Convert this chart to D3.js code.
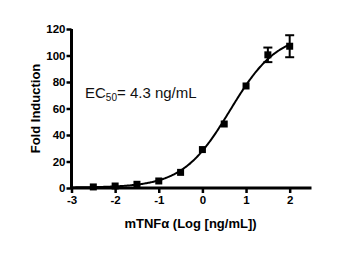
<!DOCTYPE html>
<html><head><meta charset="utf-8">
<script src="https://cdn.jsdelivr.net/npm/d3@7"></script>
<style>body{margin:0;background:#fff}svg{display:block}</style>
</head><body>
<script>
const logConc = [-2.5, -2, -1.5, -1, -0.5, 0, 0.5, 1, 1.5, 2];
const foldInd = [0.8, 1.5, 2.8, 5.3, 11.8, 29, 48.3, 77, 100.5, 107];
const errBar  = [0, 0, 0, 0, 0, 0, 0, 0, 5.5, 8.3];
const xTicks = [-3, -2, -1, 0, 1, 2];
const yTicks = [0, 20, 40, 60, 80, 100, 120];
// 4PL fit parameters
const fitBottom = 0.3, fitTop = 117, fitLogEC50 = Math.log10(4.3), fitHill = 0.8;

const W = 354, H = 253;
const svg = d3.select("body").append("svg").attr("width", W).attr("height", H);
const x = d3.scaleLinear().domain([-3, 2.5]).range([71.5, 311.5]);
const y = d3.scaleLinear().domain([0, 120]).range([188, 29]);
const ff = "Arial, 'Liberation Sans', sans-serif";

const xAxis = svg.append("g").attr("transform", "translate(0,188)")
  .call(d3.axisBottom(x).tickValues(xTicks).tickSize(5).tickPadding(3).tickFormat(d => String(d)));
const yAxis = svg.append("g").attr("transform", "translate(71.5,0)")
  .call(d3.axisLeft(y).tickValues(yTicks).tickSize(5).tickPadding(1));
[xAxis, yAxis].forEach(g => {
  g.select(".domain").attr("stroke", "#000").attr("stroke-width", 3);
  g.selectAll(".tick line").attr("stroke", "#000").attr("stroke-width", 2.5);
  g.selectAll(".tick text").attr("fill", "#000").style("font-family", ff)
   .style("font-size", "11.5px").style("font-weight", "bold");
});
xAxis.select(".domain").attr("d", `M${x(-3)},0H${x(2.5)}`);
yAxis.select(".domain").attr("d", `M0,${y(0)}V${y(120)}`);

// fitted curve
const fx = d3.range(-3, 2.0001, 0.02);
const line = d3.line().x(d => x(d)).y(d => y(fitBottom + (fitTop - fitBottom) / (1 + Math.pow(10, (fitLogEC50 - d) * fitHill))));
svg.append("path").datum(fx).attr("d", line).attr("fill", "none").attr("stroke", "#000").attr("stroke-width", 2);

// error bars
const eb = svg.append("g").attr("stroke", "#000").attr("stroke-width", 2);
logConc.forEach((c, i) => {
  if (!errBar[i]) return;
  const cx = x(c), y1 = y(foldInd[i] + errBar[i]), y2 = y(foldInd[i] - errBar[i]);
  eb.append("line").attr("x1", cx).attr("x2", cx).attr("y1", y1).attr("y2", y2);
  eb.append("line").attr("x1", cx - 4.5).attr("x2", cx + 4.5).attr("y1", y1).attr("y2", y1);
  eb.append("line").attr("x1", cx - 4.5).attr("x2", cx + 4.5).attr("y1", y2).attr("y2", y2);
});

// markers
svg.append("g").selectAll("rect").data(logConc).join("rect")
  .attr("x", d => x(d) - 3.5).attr("y", (d, i) => y(foldInd[i]) - 3.5)
  .attr("width", 7).attr("height", 7).attr("fill", "#000");

// labels
svg.append("text").attr("transform", "translate(39.5,108.5) rotate(-90)").attr("text-anchor", "middle")
  .style("font-family", ff).style("font-size", "13px").style("font-weight", "bold").text("Fold Induction");
svg.append("text").attr("x", 190.5).attr("y", 228).attr("text-anchor", "middle")
  .style("font-family", ff).style("font-size", "13px").style("font-weight", "bold").text("mTNFα (Log [ng/mL])");
const ec = svg.append("text").attr("x", 85).attr("y", 97.5).style("font-family", ff).style("font-size", "15px").attr("fill", "#111");
ec.append("tspan").text("EC");
ec.append("tspan").attr("dy", 3.5).style("font-size", "10px").text("50");
ec.append("tspan").attr("dy", -3.5).text("= 4.3 ng/mL");
</script>
</body></html>
